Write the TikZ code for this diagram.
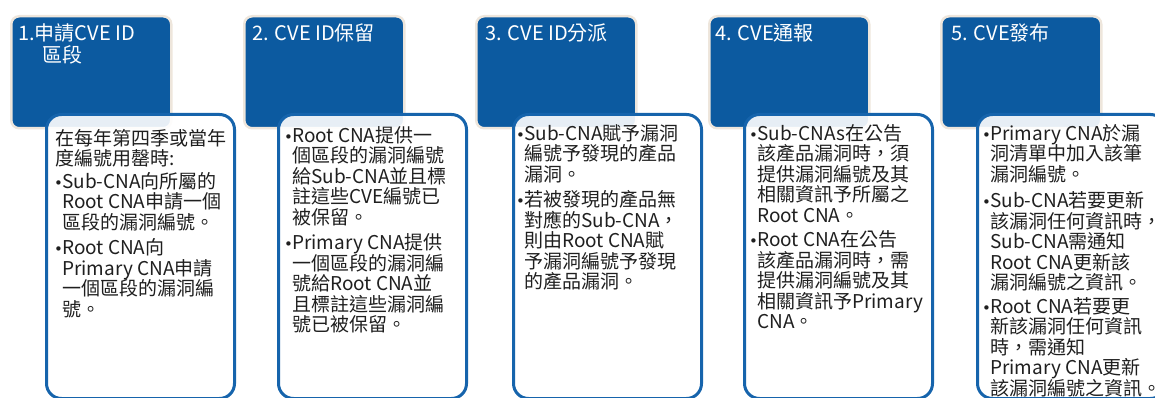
\documentclass[tikz,border=0pt]{standalone}
\usepackage{fontspec}
\setmainfont{Noto Sans CJK TC}
\newfontfamily\dvfont{DejaVu Sans}
\definecolor{hdrblue}{RGB}{12,90,160}
\definecolor{bdrblue}{RGB}{22,100,172}
\definecolor{glowc}{RGB}{238,230,220}
\newcommand\B{\makebox[7pt][l]{\hspace*{-1pt}{\dvfont\fontsize{15}{15}\selectfont •}}}
\newcommand\I{\hspace*{7pt}}
\newcommand\HI{\hspace*{24pt}}
\lineskiplimit=-100pt
\begin{document}
\begin{tikzpicture}[x=1pt,y=-1pt,
  hdr/.style={draw=glowc,line width=2.5pt,fill=hdrblue,rounded corners=8pt,anchor=north west,minimum width=160pt,minimum height=112pt,inner sep=0pt},
  bodybox/.style={draw=bdrblue,line width=3pt,fill=white,fill opacity=0.9,rounded corners=15pt,anchor=north west,minimum width=188pt,minimum height=284pt,inner sep=0pt},
  htxt/.style={anchor=north west,inner sep=0pt,align=left,text=white,font=\fontsize{20}{22}\selectfont},
  btxt/.style={anchor=north west,inner sep=0pt,align=left,text=black!88,font=\fontsize{19}{20.5}\selectfont}]
\useasboundingbox (0,0) rectangle (1155,398);
\clip (0,0) rectangle (1155,398);
% headers
\node[hdr] (h1) at (10,15) {};
\node[hdr] (h2) at (243,15) {};
\node[hdr] (h3) at (475,15) {};
\node[hdr] (h4) at (708,15) {};
\node[hdr] (h5) at (940,15) {};
\node[htxt] (ht1) at ([shift={(8,8.5)}]h1.north west) {1.申請CVE ID\\ \HI 區段};
\node[htxt] (ht2) at ([shift={(9,8.5)}]h2.north west) {2. CVE ID保留};
\node[htxt] (ht3) at ([shift={(10,8.5)}]h3.north west) {3. CVE ID分派};
\node[htxt] (ht4) at ([shift={(7,8.5)}]h4.north west) {4. CVE通報};
\node[htxt] (ht5) at ([shift={(11,8.5)}]h5.north west) {5. CVE發布};
% bodies
\node[bodybox] (b1) at (45,113) {};
\node[bodybox] (b2) at (277,113) {};
\node[bodybox] (b3) at (512,113) {};
\node[bodybox] (b4) at (743,113) {};
\node[bodybox] (b5) at (976,113) {};
\node[btxt] (t1) at ([shift={(10,16)}]b1.north west) {在每年第四季或當年\\
度編號用罄時:\\[2pt]
\B Sub-CNA向所屬的\\
\I Root CNA申請一個\\
\I 區段的漏洞編號。\\[5pt]
\B Root CNA向\\
\I Primary CNA申請\\
\I 一個區段的漏洞編\\
\I 號。};
\node[btxt] (t2) at ([shift={(8,13)}]b2.north west) {\B Root CNA提供一\\
\I 個區段的漏洞編號\\
\I 給Sub-CNA並且標\\
\I 註這些CVE編號已\\
\I 被保留。\\[5pt]
\B Primary CNA提供\\
\I 一個區段的漏洞編\\
\I 號給Root CNA並\\
\I 且標註這些漏洞編\\
\I 號已被保留。};
\node[btxt] (t3) at ([shift={(5,11)}]b3.north west) {\B Sub-CNA賦予漏洞\\
\I 編號予發現的產品\\
\I 漏洞。\\[5pt]
\B 若被發現的產品無\\
\I 對應的Sub-CNA，\\
\I 則由Root CNA賦\\
\I 予漏洞編號予發現\\
\I 的產品漏洞。};
\node[btxt] (t4) at ([shift={(7,11)}]b4.north west) {\B Sub-CNAs在公告\\
\I 該產品漏洞時，須\\
\I 提供漏洞編號及其\\
\I 相關資訊予所屬之\\
\I Root CNA。\\[4pt]
\B Root CNA在公告\\
\I 該產品漏洞時，需\\
\I 提供漏洞編號及其\\
\I 相關資訊予Primary\\
\I CNA。};
\node[btxt] (t5) at ([shift={(7,11)}]b5.north west) {\B Primary CNA於漏\\
\I 洞清單中加入該筆\\
\I 漏洞編號。\\[6pt]
\B Sub-CNA若要更新\\
\I 該漏洞任何資訊時，\\
\I Sub-CNA需通知\\
\I Root CNA更新該\\
\I 漏洞編號之資訊。\\[3pt]
\B Root CNA若要更\\
\I 新該漏洞任何資訊\\
\I 時，需通知\\
\I Primary CNA更新\\
\I 該漏洞編號之資訊。};
\end{tikzpicture}
\end{document}
